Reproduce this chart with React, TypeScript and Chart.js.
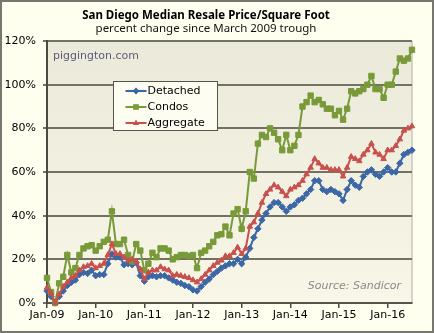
import React, { useEffect, useRef } from 'react';
import { Chart, registerables } from 'chart.js';

Chart.register(...registerables);

const TITLE = 'San Diego Median Resale Price/Square Foot';
const SUBTITLE = 'percent change since March 2009 trough';
const WATERMARK = 'piggington.com';
const SOURCE = 'Source: Sandicor';

const MONTHS = ['Jan', 'Feb', 'Mar', 'Apr', 'May', 'Jun', 'Jul', 'Aug', 'Sep', 'Oct', 'Nov', 'Dec'];
const YEARS = ['09', '10', '11', '12', '13', '14', '15', '16'];
const MONTH_COUNT = 91; // Jan-09 .. Jul-16
const LABELS: string[] = [];
for (let i = 0; i < MONTH_COUNT; i++) LABELS.push(MONTHS[i % 12] + '-' + YEARS[Math.floor(i / 12)]);

const SERIES_NAMES = ['Detached', 'Condos', 'Aggregate'];

const DETACHED = [
  5.5, 3, 0, 3, 5.5, 8, 9.5, 10.5, 13, 14, 13.5, 15,
  12.5, 13, 13, 18, 22.5, 21, 21, 17.5, 18, 17.5, 18.5, 12.5,
  10, 12, 12.5, 12, 12.5, 12.5, 11.5, 10.5, 9.5, 9, 8, 7.5,
  6, 5.5, 7.5, 9.5, 11, 13, 14.5, 16, 17, 18, 18, 20,
  18, 21, 25, 30, 34, 38, 41, 44, 46, 46, 44, 42,
  44, 45, 47, 48, 50, 52, 56, 56, 52, 51, 52, 51,
  50, 47, 52, 56, 54, 53, 58, 60, 61, 59, 58, 60,
  62, 60, 60, 64, 68, 69, 70,
];

const CONDOS = [
  11.5, 5, 0, 9, 12, 22, 14, 16, 22, 25, 26, 26.5,
  24, 26, 28, 29, 42, 27, 27, 29, 22, 19, 27, 24,
  15, 18, 23, 21, 25, 25, 24, 20, 21, 22, 22, 21.5,
  22, 16, 23, 24, 26, 28, 31, 31.5, 35, 31, 41, 43,
  34, 42, 60, 57, 73, 77, 76, 80, 78, 75, 70, 77,
  70, 72, 77, 90, 92, 95, 92, 93, 91, 89, 89, 86,
  88, 84, 89, 97, 96, 97, 98, 100, 104, 98, 98, 94,
  100, 100, 106, 112, 111, 112, 116,
];

const AGGREGATE = [
  7, 4.5, 0, 4, 7.5, 9.5, 11.5, 12.5, 15, 16.5, 17, 18,
  16, 17, 18, 22, 27, 22.5, 22.5, 21, 19.5, 20, 19, 15.5,
  11, 14, 15, 15, 16.5, 15.5, 15, 12.5, 13, 12.5, 12, 11.5,
  10.5, 9.5, 11, 13, 15, 17, 18.5, 19.5, 21.5, 21.5, 23, 25.5,
  22.5, 25, 35, 37, 41, 46, 50, 52, 54, 53, 51, 49,
  52, 53, 54, 56, 59, 62, 66, 64, 62, 62, 61, 61,
  61, 58, 62, 67, 66, 65, 68, 70, 73, 69, 68, 66,
  70, 70, 72, 75, 79, 80, 81,
];

const Y_MIN = 0;
const Y_MAX = 120;
const Y_STEP = 20;

const COLORS = ['#3C67A6', '#789A38', '#C8504D'];
const MARKERS = ['rectRot', 'rect', 'triangle'];
const FONT = 'DejaVu Sans';
const TITLE_FONT = 'Noto Sans';

function drawMarker(ctx: CanvasRenderingContext2D, style: string, x: number, y: number, r: number, color: string) {
  ctx.save();
  ctx.fillStyle = color;
  ctx.beginPath();
  if (style === 'rect') {
    const s = r * Math.SQRT1_2;
    ctx.rect(x - s, y - s, 2 * s, 2 * s);
  } else if (style === 'rectRot') {
    ctx.moveTo(x, y - r);
    ctx.lineTo(x + r, y);
    ctx.lineTo(x, y + r);
    ctx.lineTo(x - r, y);
    ctx.closePath();
  } else {
    ctx.moveTo(x, y - r);
    ctx.lineTo(x + r * 0.9, y + r * 0.6);
    ctx.lineTo(x - r * 0.9, y + r * 0.6);
    ctx.closePath();
  }
  ctx.fill();
  ctx.restore();
}

const decorPlugin = {
  id: 'decor',
  beforeDraw(chart: any) {
    const { ctx, chartArea: a, width, height } = chart;
    ctx.save();
    ctx.fillStyle = '#FFFFF0';
    ctx.fillRect(0, 0, width, height);
    ctx.strokeStyle = '#777770';
    ctx.lineWidth = 2;
    ctx.strokeRect(1, 1, width - 2, height - 2);
    const g = ctx.createLinearGradient(0, a.top, 0, a.bottom);
    g.addColorStop(0, '#EBE9DA');
    g.addColorStop(1, '#F8F6E7');
    ctx.fillStyle = g;
    ctx.fillRect(a.left, a.top, a.right - a.left, a.bottom - a.top);
    ctx.strokeStyle = '#C9C7BC';
    ctx.lineWidth = 1.5;
    ctx.beginPath();
    ctx.moveTo(a.right, a.top);
    ctx.lineTo(a.right, a.bottom);
    ctx.stroke();
    ctx.restore();
  },
  afterDraw(chart: any) {
    const { ctx, chartArea: a } = chart;
    ctx.save();
    ctx.textBaseline = 'middle';
    ctx.font = '11px "' + FONT + '"';
    ctx.fillStyle = '#5C5C7A';
    ctx.textAlign = 'left';
    ctx.fillText(WATERMARK, a.left + 6, a.top + 15);
    ctx.font = 'italic 11px "' + FONT + '"';
    ctx.fillStyle = '#8A8A88';
    ctx.textAlign = 'right';
    ctx.fillText(SOURCE, a.right - 11, a.bottom - 17);

    // legend
    const lx = Math.round(a.left + 66) + 0.5;
    const ly = Math.round(a.top + 40) + 0.5;
    const lw = 104;
    const lh = 49;
    ctx.fillStyle = '#FDFDF1';
    ctx.fillRect(lx, ly, lw, lh);
    ctx.strokeStyle = '#55554C';
    ctx.lineWidth = 1;
    ctx.strokeRect(lx, ly, lw, lh);
    ctx.font = '11px "' + FONT + '"';
    ctx.textAlign = 'left';
    SERIES_NAMES.forEach((name, i) => {
      const y = ly + 9.5 + 16 * i;
      ctx.strokeStyle = COLORS[i];
      ctx.lineWidth = 2;
      ctx.beginPath();
      ctx.moveTo(lx + 12, y);
      ctx.lineTo(lx + 33, y);
      ctx.stroke();
      drawMarker(ctx, MARKERS[i], lx + 22.5, y, i === 1 ? 4 : 3.5, COLORS[i]);
      ctx.fillStyle = '#000';
      ctx.fillText(name, lx + 34, y);
    });
    ctx.restore();
  },
};

export default function App() {
  const canvasRef = useRef<HTMLCanvasElement | null>(null);

  useEffect(() => {
    document.body.style.margin = '0';
    const canvas = canvasRef.current;
    if (!canvas) return;
    Chart.defaults.font.family = FONT;
    const seriesData = [DETACHED, CONDOS, AGGREGATE];
    const chart = new Chart(canvas, {
      type: 'line',
      data: {
        labels: LABELS,
        datasets: SERIES_NAMES.map((name, i) => ({
          label: name,
          data: seriesData[i],
          borderColor: COLORS[i],
          backgroundColor: COLORS[i],
          pointBackgroundColor: COLORS[i],
          pointBorderColor: COLORS[i],
          borderWidth: 2,
          pointStyle: MARKERS[i] as any,
          pointRadius: i === 1 ? 3.8 : 3.2,
          pointBorderWidth: 1,
          tension: 0,
          clip: false as any,
          order: 3 - i,
        })),
      },
      options: {
        responsive: false,
        animation: false,
        events: [],
        layout: { padding: { left: 0, right: 22, top: 0, bottom: 0 } },
        plugins: {
          legend: { display: false },
          tooltip: { enabled: false },
          title: {
            display: true,
            text: TITLE,
            color: '#000',
            font: { size: 11.5, weight: 'bold', family: TITLE_FONT, lineHeight: 1.15 },
            padding: { top: 9, bottom: 0 },
          },
          subtitle: {
            display: true,
            text: SUBTITLE,
            color: '#111',
            font: { size: 11.5, weight: 'normal', family: TITLE_FONT, lineHeight: 1.2 },
            padding: { top: 0, bottom: 5 },
          },
        },
        scales: {
          x: {
            type: 'category',
            offset: false,
            grid: {
              display: true,
              drawOnChartArea: false,
              drawTicks: true,
              tickLength: 5,
              lineWidth: 1.5,
              color: (c: any) => (c.index % 12 === 0 ? '#4A4A42' : 'rgba(0,0,0,0)'),
            },
            border: { display: true, color: '#55554C', width: 2 },
            ticks: {
              autoSkip: false,
              maxRotation: 0,
              minRotation: 0,
              padding: 1,
              color: '#000',
              font: { size: 11, family: FONT },
              callback: (_v: any, idx: number) => (idx % 12 === 0 ? LABELS[idx] : ''),
            },
            afterFit: (s: any) => {
              s.height = 30;
            },
          },
          y: {
            min: Y_MIN,
            max: Y_MAX,
            grid: {
              color: '#727264',
              lineWidth: 2,
              tickLength: 4,
              drawTicks: true,
            },
            border: { display: true, color: '#4A4A42', width: 2 },
            ticks: {
              stepSize: Y_STEP,
              padding: 7,
              color: '#000',
              font: { size: 11, family: FONT },
              callback: (v: any) => v + '%',
            },
            afterFit: (s: any) => {
              s.width = 47;
            },
          },
        },
      },
      plugins: [decorPlugin],
    } as any);
    return () => chart.destroy();
  }, []);

  return (
    <div style={{ width: 434, height: 333, position: 'relative' }}>
      <canvas ref={canvasRef} width={434} height={333} style={{ width: 434, height: 333, display: 'block' }} />
    </div>
  );
}
